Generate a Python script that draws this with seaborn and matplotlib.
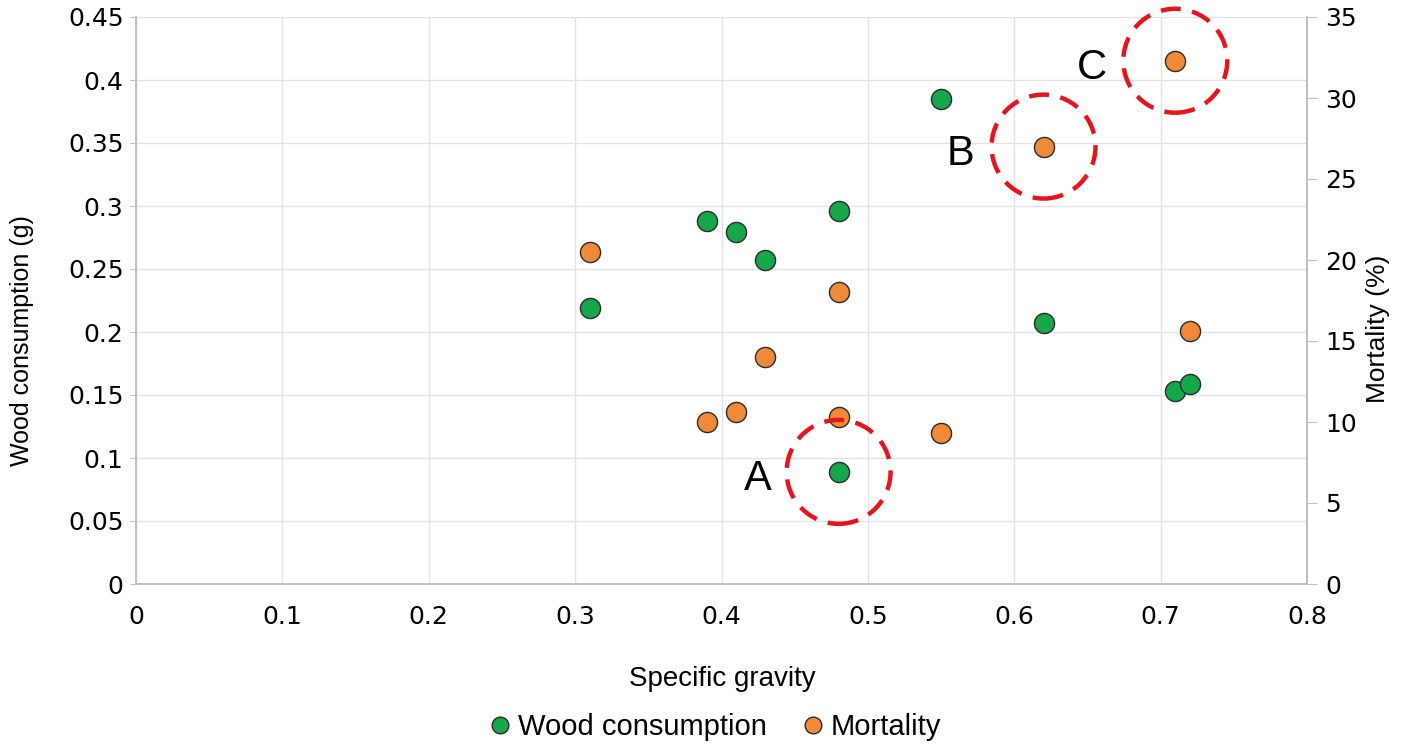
"""Scatter: wood consumption and mortality vs specific gravity (twin y axes)."""
import matplotlib
matplotlib.use("Agg")
import matplotlib.pyplot as plt
from matplotlib.lines import Line2D
import seaborn as sns

# data
sg_wood = [0.31, 0.39, 0.41, 0.43, 0.48, 0.48, 0.55, 0.62, 0.71, 0.72]
wood = [0.219, 0.288, 0.279, 0.257, 0.296, 0.089, 0.385, 0.207, 0.153, 0.159]
sg_mort = [0.31, 0.39, 0.41, 0.43, 0.48, 0.48, 0.55, 0.62, 0.71, 0.72]
mortality = [20.5, 10.0, 10.6, 14.0, 18.0, 10.3, 9.3, 27.0, 32.3, 15.6]

# highlighted points
mark_wood = {"A": (0.48, 0.089)}
mark_mort = {"B": (0.62, 27.0), "C": (0.71, 32.3)}

x_ticks = [0, 0.1, 0.2, 0.3, 0.4, 0.5, 0.6, 0.7, 0.8]
left_ticks = [0, 0.05, 0.1, 0.15, 0.2, 0.25, 0.3, 0.35, 0.4, 0.45]
right_ticks = [0, 5, 10, 15, 20, 25, 30, 35]

GREEN = "#14A84B"
ORANGE = "#F08A38"
EDGE = "#2B2B2B"
GRID = "#E2E2E2"
SPINE = "#BFBFBF"
TICK_FONT = ["DejaVu Sans"]
LABEL_FONT = ["Liberation Sans", "DejaVu Sans"]

sns.set_style("white")
plt.rcParams["font.family"] = LABEL_FONT
plt.rcParams["text.color"] = "black"
plt.rcParams["axes.labelcolor"] = "black"
plt.rcParams["xtick.color"] = "black"
plt.rcParams["ytick.color"] = "black"

fig = plt.figure(figsize=(14.27, 7.5), dpi=100)
ax = fig.add_axes([136 / 1427, 1 - 584 / 750, (1307 - 136) / 1427, (584 - 17) / 750])
ax2 = ax.twinx()

sns.scatterplot(x=sg_wood, y=wood, ax=ax, color=GREEN, s=210,
                edgecolor=EDGE, linewidth=1.0, zorder=3, legend=False)
sns.scatterplot(x=sg_mort, y=mortality, ax=ax2, color=ORANGE, s=210,
                edgecolor=EDGE, linewidth=1.0, zorder=3, legend=False)

ax.set_xlim(0, 0.8)
ax.set_ylim(0, 0.45)
ax2.set_ylim(0, 35)
ax.set_xticks(x_ticks)
ax.set_xticklabels([f"{v:g}" for v in x_ticks], family=TICK_FONT)
ax.set_yticks(left_ticks)
ax.set_yticklabels([f"{v:g}" for v in left_ticks], family=TICK_FONT)
ax2.set_yticks(right_ticks)
ax2.set_yticklabels([f"{v:g}" for v in right_ticks], family=TICK_FONT)

ax.grid(True, color=GRID, linewidth=1.0)
ax.set_axisbelow(True)
for a in (ax, ax2):
    a.spines["top"].set_visible(False)
    for side in ("left", "right", "bottom"):
        a.spines[side].set_color(SPINE)
        a.spines[side].set_linewidth(1.2)
ax.tick_params(axis="x", length=0, labelsize=18, pad=15)
ax.tick_params(axis="y", length=4, color=SPINE, labelsize=18, pad=5)
ax2.tick_params(axis="y", length=7, color=SPINE, labelsize=18, pad=6)

ax.set_xlabel("Specific gravity", fontsize=20)
ax.set_ylabel("Wood consumption (g)", fontsize=18)
ax2.set_ylabel("Mortality (%)", fontsize=19)
ax.xaxis.set_label_coords(0.5004, -0.144)
ax.yaxis.set_label_coords(-0.087, 0.43)
ax2.yaxis.set_label_coords(1.050, 0.45)

# dashed red rings and letters around the highlighted points
ring = dict(s=5600, facecolors="none", edgecolors="#E8141B", linewidths=3.2,
            linestyle=(0, (4.5, 2.6)), zorder=5, clip_on=False)
letter = dict(textcoords="offset points", fontsize=30, ha="center", va="center",
              color="black")
for name, (x, y) in mark_wood.items():
    ax2.scatter([x], [y], transform=ax.transData, **ring)
    ax2.annotate(name, (x, y), xycoords=ax.transData, xytext=(-58, -5), **letter)
for name, (x, y) in mark_mort.items():
    ax2.scatter([x], [y], **ring)
    ax2.annotate(name, (x, y), xytext=(-60, -5), **letter)

handles = [
    Line2D([], [], marker="o", linestyle="", markersize=12, markerfacecolor=GREEN,
           markeredgecolor=EDGE, markeredgewidth=1.0, label="Wood consumption"),
    Line2D([], [], marker="o", linestyle="", markersize=12, markerfacecolor=ORANGE,
           markeredgecolor=EDGE, markeredgewidth=1.0, label="Mortality"),
]
fig.legend(handles=handles, loc="center", bbox_to_anchor=(0.499, 0.031), ncol=2,
           frameon=False, fontsize=21, handletextpad=0.0, columnspacing=1.0,
           handlelength=1.2)

fig.savefig("out.png", dpi=100)
plt.close(fig)
